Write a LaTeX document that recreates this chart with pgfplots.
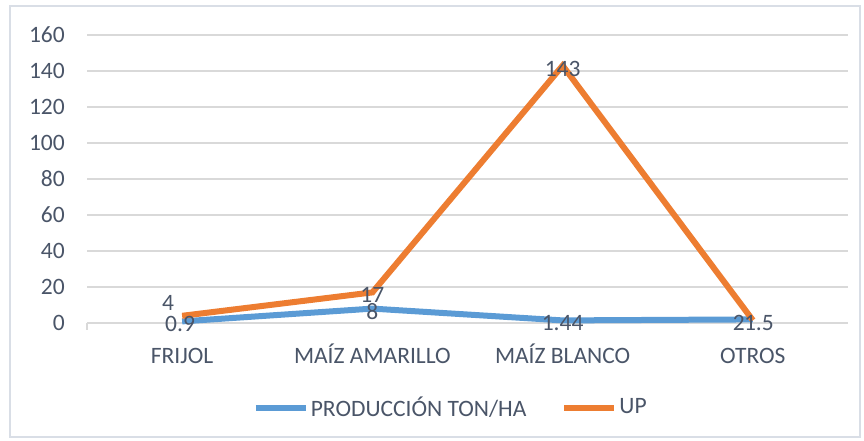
\documentclass[border=0pt]{standalone}
\usepackage{pgfplots}
\pgfplotsset{compat=1.18}
\usepackage{pgfplotstable}
\usepackage{fontspec}
\setmainfont{Carlito}
\definecolor{txt}{HTML}{4A5568}
\definecolor{cblue}{HTML}{5B9BD5}
\definecolor{corange}{HTML}{ED7D31}
\definecolor{gridc}{HTML}{D9D9D9}
\definecolor{framec}{HTML}{D9DEE6}

\pgfplotstableread{
x y lbl dx dy
0 0.9 0.9 -2 -3
1 8 8 0 -3
2 1.44 1.44 0 -3
3 2 2 -14 -3
}\prod
\pgfplotstableread{
x y lbl dx dy
0 4 4 -14 13
1 17 17 0 -3
2 143 143 0 -3
3 1.5 1.5 6 -3
}\up

\begin{document}
\fontsize{23.5}{28}\selectfont
\begin{tikzpicture}[x=1pt,y=1pt]
\useasboundingbox (0,0) rectangle (864,-440);
\draw[framec, line width=1.3pt] (10,-6) rectangle (860,-437);
\begin{axis}[
  at={(87pt,-323pt)}, anchor=south west,
  scale only axis, width=761pt, height=288pt,
  xmin=-0.5, xmax=3.5, ymin=0, ymax=160,
  xtick={0,1,2,3},
  xticklabels={FRIJOL, MAÍZ AMARILLO, MAÍZ BLANCO, OTROS},
  ytick={0,20,...,160},
  /pgf/number format/assume math mode=true,
  ymajorgrids, grid style={gridc, line width=1.2pt},
  axis x line*=bottom, axis y line*=left,
  x axis line style={gridc, line width=1.2pt, -},
  y axis line style={draw=none},
  major tick length=0pt,
  tick style={draw=none},
  tick label style={text=txt, font=\fontsize{23.5}{28}\selectfont},
  yticklabel style={inner sep=0pt, anchor=east, xshift=-22pt},
  xticklabel style={inner sep=0pt, anchor=base, yshift=-40pt},
  clip=false,
  legend style={at={(0.478,-0.295)}, anchor=center, draw=none, fill=none,
    legend columns=2, text=txt, font=\fontsize{23.5}{28}\selectfont,
    /tikz/every even column/.append style={column sep=33pt}},
  legend image code/.code={\draw[#1, line width=6pt] (0pt,0pt) -- (50pt,0pt);},
  point meta=explicit symbolic,
  nodes near coords,
  visualization depends on={\thisrow{dx} \as \dx},
  visualization depends on={\thisrow{dy} \as \dy},
  nodes near coords style={anchor=center, text=txt, inner sep=0pt,
    font=\fontsize{23.5}{28}\selectfont, xshift=\dx pt, yshift=\dy pt},
]
\draw[gridc, line width=1.2pt] (axis cs:-0.5,0) -- ++(0pt,-7pt);
\addplot[cblue, line width=6pt, miter limit=10, mark=none]
  table[x=x, y=y, meta=lbl] {\prod};
\addlegendentry{PRODUCCIÓN TON/HA}
\addplot[corange, line width=6pt, miter limit=10, mark=none]
  table[x=x, y=y, meta=lbl] {\up};
\addlegendentry{UP}
\end{axis}
\end{tikzpicture}
\end{document}
